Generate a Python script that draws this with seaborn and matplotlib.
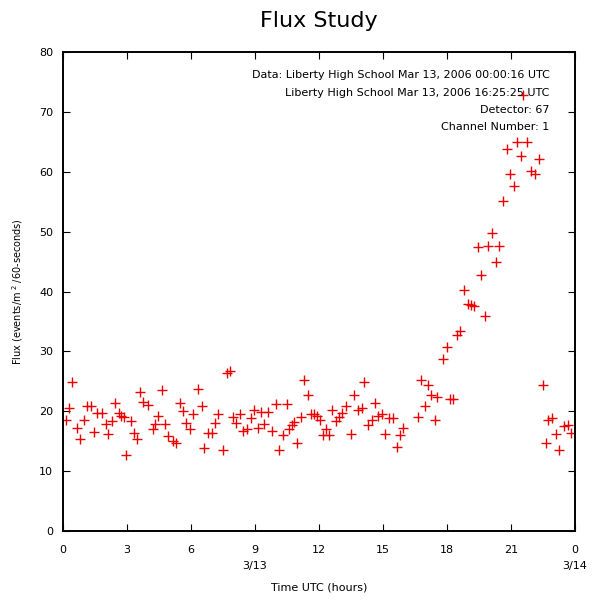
import seaborn as sns
import matplotlib.pyplot as plt
import pandas as pd

# hours since 00:00 UTC on 3/13, flux per 60 s
hours = [0.14, 0.28, 0.44, 0.67, 0.81, 1.00, 1.12, 1.30, 1.47, 1.58, 1.81, 2.00, 2.12, 2.30,
         2.44, 2.61, 2.72, 2.86, 2.95, 3.17, 3.31, 3.45, 3.63, 3.77, 4.00, 4.20, 4.30, 4.47,
         4.63, 4.78, 4.94, 5.14, 5.30, 5.49, 5.64, 5.77, 5.95, 6.11, 6.34, 6.50, 6.61, 6.81,
         6.97, 7.13, 7.28, 7.48, 7.67, 7.83, 7.95, 8.11, 8.30, 8.45, 8.61, 8.81, 8.97, 9.13,
         9.28, 9.44, 9.60, 9.81, 9.97, 10.13, 10.33, 10.49, 10.60, 10.72, 10.84, 10.98, 11.16,
         11.31, 11.47, 11.63, 11.78, 11.89, 12.05, 12.17, 12.33, 12.48, 12.63, 12.78, 12.95,
         13.09, 13.27, 13.49, 13.64, 13.84, 14.00, 14.11, 14.31, 14.47, 14.63, 14.78, 14.94,
         15.10, 15.30, 15.49, 15.64, 15.80, 15.95, 16.66, 16.78, 16.97, 17.13, 17.28, 17.44,
         17.55, 17.80, 17.99, 18.17, 18.30, 18.46, 18.61, 18.80, 18.97, 19.13, 19.27, 19.44,
         19.61, 19.78, 19.94, 20.13, 20.30, 20.44, 20.64, 20.80, 20.96, 21.16, 21.30, 21.47,
         21.55, 21.78, 21.94, 22.13, 22.31, 22.49, 22.63, 22.75, 22.92, 23.11, 23.27, 23.49,
         23.66, 23.82]
flux = [18.5, 20.6, 24.9, 17.2, 15.3, 18.5, 20.9, 20.9, 16.5, 19.7, 19.7, 17.8, 16.2, 18.4,
        21.4, 19.7, 19.2, 19.1, 12.7, 18.4, 16.3, 15.4, 23.3, 21.6, 21.0, 17.0, 17.8, 19.2,
        23.5, 17.8, 15.9, 15.0, 14.7, 21.4, 20.0, 18.1, 17.1, 19.5, 23.8, 20.9, 13.9, 16.4,
        16.4, 18.1, 19.5, 13.6, 26.4, 26.7, 19.1, 18.1, 19.5, 16.7, 17.0, 18.9, 20.3, 17.2,
        19.9, 17.8, 19.9, 16.7, 21.2, 13.5, 16.1, 21.2, 17.1, 17.7, 18.2, 14.7, 19.1,
        25.3, 22.7, 19.6, 19.6, 19.2, 18.5, 16.0, 17.1, 16.0, 20.3, 18.3, 19.1,
        19.7, 20.9, 16.2, 22.7, 20.3, 20.6, 24.9, 17.7, 18.6, 21.4, 19.2, 19.5,
        16.2, 18.8, 18.8, 14.0, 16.0, 17.2, 19.1, 25.3, 20.9, 24.4, 22.7, 18.6,
        22.4, 28.8, 30.8, 22.1, 22.1, 32.7, 33.4, 40.3, 38.0, 37.7, 37.6, 47.4,
        42.7, 35.9, 47.7, 49.8, 45.0, 47.7, 55.1, 63.9, 59.6, 57.6, 65.0, 62.7,
        72.8, 65.0, 60.1, 59.7, 62.1, 24.4, 14.7, 18.6, 18.8, 16.2, 13.5, 17.5,
        17.7, 16.4]

tick_pos = [0, 3, 6, 9, 12, 15, 18, 21, 24]
tick_labels = ["0", "3", "6", "9\n3/13", "12", "15", "18", "21", "0\n3/14"]
info_lines = ["Data: Liberty High School Mar 13, 2006 00:00:16 UTC",
              "Liberty High School Mar 13, 2006 16:25:25 UTC",
              "Detector: 67",
              "Channel Number: 1"]

df = pd.DataFrame({"hours": hours, "flux": flux})

sns.set_style("ticks")
plt.rcParams.update({"text.color": "black", "axes.labelcolor": "black",
                     "xtick.color": "black", "ytick.color": "black"})
fig = plt.figure(figsize=(6, 6), dpi=100)
ax = fig.add_axes([0.105, 0.115, 0.853, 0.798])

sns.scatterplot(x="hours", y="flux", data=df, marker="+", s=50, color="#ee0000",
                linewidth=1.0, ax=ax)

ax.set_xlim(0, 24)
ax.set_ylim(0, 80)
ax.set_xticks(tick_pos)
ax.set_xticklabels(tick_labels, fontsize=8, linespacing=1.8)
ax.set_yticks(range(0, 81, 10))
ax.tick_params(axis="y", labelsize=8, pad=7)
ax.tick_params(direction="in", length=5, width=0.8, top=True, right=True)
ax.tick_params(axis="x", pad=10)
for sp in ax.spines.values():
    sp.set_linewidth(1.4)
    sp.set_color("black")

ax.set_xlabel("Time UTC (hours)", fontsize=8, labelpad=8)
ax.set_ylabel("Flux (events/m$^{\\ 2}$ /60-seconds)", fontsize=7, labelpad=10)
ax.set_title("Flux Study", fontsize=16, pad=18)

ys = [0.952, 0.914, 0.879, 0.843]
for txt, yy in zip(info_lines, ys):
    ax.text(0.951, yy, txt, transform=ax.transAxes, ha="right", va="center", fontsize=8)

fig.savefig("out.png", dpi=100)
